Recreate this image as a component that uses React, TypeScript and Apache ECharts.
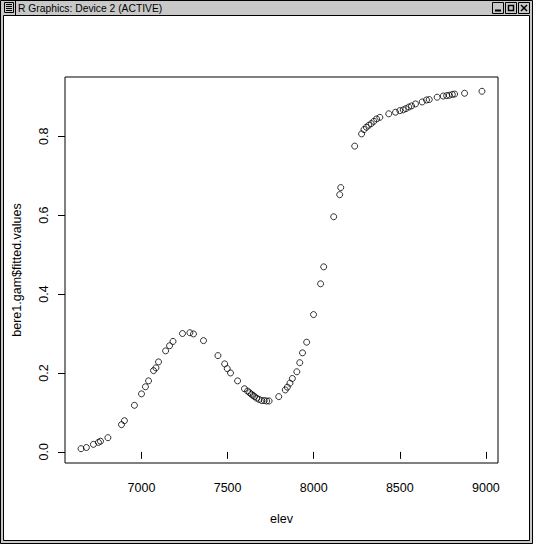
import React, { useEffect, useRef } from "react";
import * as echarts from "echarts";

const windowTitle = "R Graphics: Device 2 (ACTIVE)";
const xAxisName = "elev";
const yAxisName = "bere1.gam$fitted.values";

const elev = [
  6649, 6680, 6721, 6750, 6762, 6805, 6884, 6901, 6959, 7000,
  7023, 7041, 7070, 7084, 7099, 7140, 7163, 7183, 7238, 7281,
  7302, 7360, 7444, 7483, 7498, 7517, 7558, 7598, 7616, 7628,
  7638, 7648, 7657, 7669, 7683, 7698, 7713, 7727, 7741, 7797,
  7835, 7847, 7862, 7876, 7902, 7919, 7935, 7959, 7999, 8040,
  8058, 8116, 8151, 8157, 8238, 8278, 8292, 8306, 8320, 8334,
  8349, 8365, 8384, 8436, 8475, 8500, 8520, 8535, 8552, 8568,
  8591, 8630, 8655, 8671, 8717, 8752, 8772, 8787, 8805, 8818,
  8876, 8977,
];

const fitted = [
  0.008, 0.011, 0.019, 0.024, 0.027, 0.036, 0.069, 0.079, 0.118, 0.147,
  0.165, 0.18, 0.206, 0.213, 0.228, 0.256, 0.269, 0.28, 0.3, 0.302,
  0.299, 0.282, 0.244, 0.223, 0.211, 0.2, 0.18, 0.16, 0.154, 0.15,
  0.146, 0.143, 0.14, 0.136, 0.133, 0.13, 0.13, 0.129, 0.129, 0.14,
  0.157, 0.164, 0.174, 0.186, 0.203, 0.226, 0.251, 0.278, 0.348, 0.426,
  0.469, 0.596, 0.652, 0.67, 0.775, 0.806, 0.817, 0.823, 0.828, 0.832,
  0.838, 0.844, 0.848, 0.857, 0.861, 0.865, 0.867, 0.87, 0.874, 0.877,
  0.882, 0.887, 0.892, 0.893, 0.899, 0.902, 0.903, 0.904, 0.906, 0.907,
  0.909, 0.914,
];

const xTicks = [7000, 7500, 8000, 8500, 9000];
const yTicks = [0, 0.2, 0.4, 0.6, 0.8];

const FONT = '"Liberation Sans", Arial, Helvetica, sans-serif';

export default function App() {
  const ref = useRef<HTMLDivElement>(null);

  useEffect(() => {
    if (!ref.current) return;
    document.body.style.margin = "0";
    const chart = echarts.init(ref.current, null, { renderer: "svg" });

    const points = elev.map((x, i) => [x, fitted[i]]);

    const xPad = (Math.max(...elev) - Math.min(...elev)) * 0.04;
    const yPad = (Math.max(...fitted) - Math.min(...fitted)) * 0.04;

    const graphic: any[] = [
      // client area
      {
        type: "rect",
        z: -10,
        shape: { x: 3.5, y: 15.5, width: 526, height: 525 },
        style: { fill: "#ffffff", stroke: "#000000", lineWidth: 1 },
        silent: true,
      },
      // outer border
      {
        type: "rect",
        z: -10,
        shape: { x: 0.5, y: 0.5, width: 532, height: 543 },
        style: { fill: "none", stroke: "#000000", lineWidth: 1 },
        silent: true,
      },
      // menu icon
      {
        type: "rect",
        z: -5,
        shape: { x: 4.5, y: 2.5, width: 9, height: 10 },
        style: { fill: "#c8c8c8", stroke: "#000", lineWidth: 1 },
        silent: true,
      },
      ...[4.5, 6.5, 8.5, 10.5].map((y) => ({
        type: "line",
        z: -5,
        shape: { x1: 6, y1: y, x2: 12, y2: y },
        style: { stroke: "#000", lineWidth: 1 },
        silent: true,
      })),
      {
        type: "line",
        z: -5,
        shape: { x1: 15.5, y1: 1, x2: 15.5, y2: 15 },
        style: { stroke: "#000", lineWidth: 1 },
        silent: true,
      },
      {
        type: "text",
        z: -5,
        x: 18,
        y: 8,
        style: {
          text: windowTitle,
          fill: "#000",
          font: `10.3px ${FONT}`,
          textVerticalAlign: "middle",
          verticalAlign: "middle",
        },
        silent: true,
      },
      // buttons
      ...[492.5, 505.5, 518.5].map((x) => ({
        type: "rect",
        z: -5,
        shape: { x, y: 2.5, width: 11, height: 11 },
        style: { fill: "#c8c8c8", stroke: "#000", lineWidth: 1 },
        silent: true,
      })),
      {
        type: "line",
        z: -4,
        shape: { x1: 495, y1: 10.5, x2: 501, y2: 10.5 },
        style: { stroke: "#000", lineWidth: 2 },
        silent: true,
      },
      {
        type: "rect",
        z: -4,
        shape: { x: 508.5, y: 5.5, width: 5, height: 5 },
        style: { fill: "none", stroke: "#000", lineWidth: 1.5 },
        silent: true,
      },
      {
        type: "line",
        z: -4,
        shape: { x1: 521, y1: 5, x2: 527, y2: 11 },
        style: { stroke: "#000", lineWidth: 1.5 },
        silent: true,
      },
      {
        type: "line",
        z: -4,
        shape: { x1: 527, y1: 5, x2: 521, y2: 11 },
        style: { stroke: "#000", lineWidth: 1.5 },
        silent: true,
      },
    ];

    chart.setOption({
      animation: false,
      backgroundColor: "#c8c8c8",
      textStyle: { fontFamily: FONT },
      graphic,
      grid: {
        left: 65,
        top: 77,
        width: 433,
        height: 386,
        show: true,
        borderColor: "#000",
        borderWidth: 1,
        backgroundColor: "transparent",
      },
      xAxis: {
        type: "value",
        min: Math.min(...elev) - xPad,
        max: Math.max(...elev) + xPad,
        name: xAxisName,
        nameLocation: "middle",
        nameGap: 49,
        nameTextStyle: { color: "#000", fontSize: 12.5, fontFamily: FONT },
        axisLine: { show: false },
        splitLine: { show: false },
        axisTick: {
          show: true,
          inside: false,
          length: 7,
          lineStyle: { color: "#000", width: 1 },
          customValues: xTicks,
        },
        axisLabel: {
          show: true,
          color: "#000",
          fontSize: 12.5,
          fontFamily: FONT,
          margin: 18,
          customValues: xTicks,
          formatter: (v: number) => String(v),
        },
      },
      yAxis: {
        type: "value",
        min: Math.min(...fitted) - yPad,
        max: Math.max(...fitted) + yPad,
        name: yAxisName,
        nameLocation: "middle",
        nameRotate: 90,
        nameGap: 42,
        nameTextStyle: { color: "#000", fontSize: 12.5, fontFamily: FONT },
        axisLine: { show: false },
        splitLine: { show: false },
        axisTick: {
          show: true,
          inside: false,
          length: 7,
          lineStyle: { color: "#000", width: 1 },
          customValues: yTicks,
        },
        axisLabel: {
          show: true,
          color: "#000",
          fontSize: 12.5,
          fontFamily: FONT,
          rotate: 90,
          margin: 15,
          customValues: yTicks,
          formatter: (v: number) => v.toFixed(1),
        },
      },
      series: [
        {
          type: "scatter",
          data: points,
          symbol: "circle",
          symbolSize: 6,
          itemStyle: {
            color: "rgba(0,0,0,0)",
            borderColor: "#000",
            borderWidth: 1,
          },
          emphasis: { disabled: true },
        },
      ],
    });

    return () => {
      chart.dispose();
    };
  }, []);

  return (
    <div
      ref={ref}
      style={{ position: "absolute", left: 0, top: 0, width: 533, height: 544 }}
    />
  );
}
